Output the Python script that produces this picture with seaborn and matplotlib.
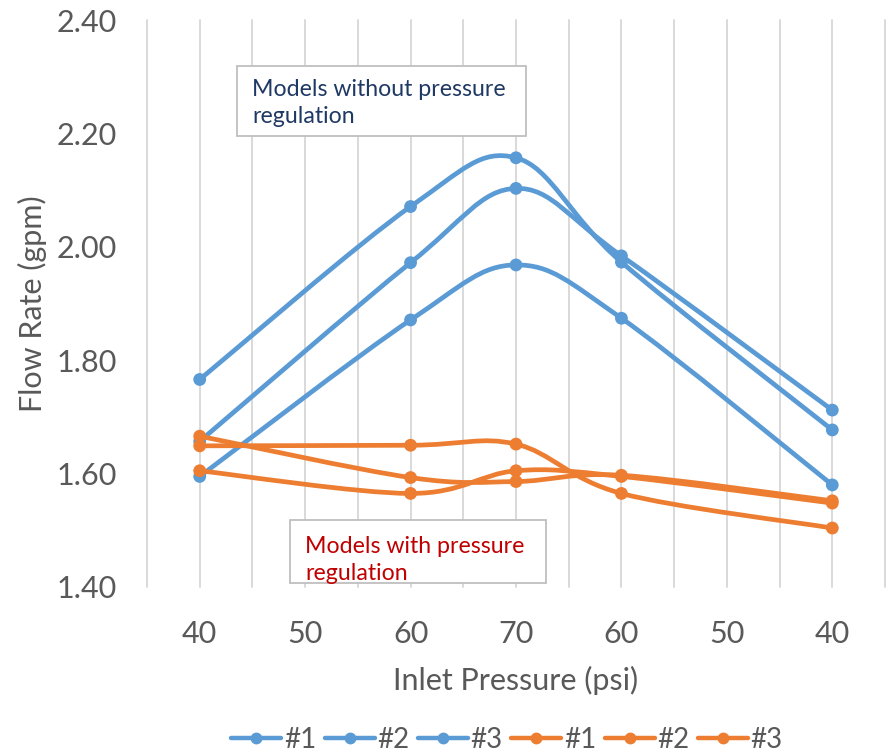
import numpy as np
import pandas as pd
import matplotlib
matplotlib.use("Agg")
import matplotlib.pyplot as plt
import seaborn as sns
from matplotlib.path import Path
from matplotlib.patches import PathPatch, Rectangle
from matplotlib.lines import Line2D

# ---------------- data ----------------
categories = ["40", "50", "60", "70", "60", "50", "40"]
x_measured = [0, 2, 3, 4, 6]          # category index of each measured pressure step
legend_labels = ["#1", "#2", "#3", "#1", "#2", "#3"]

no_reg_1 = [1.766, 2.071, 2.157, 1.973, 1.677]
no_reg_2 = [1.657, 1.972, 2.103, 1.984, 1.712]
no_reg_3 = [1.595, 1.871, 1.968, 1.874, 1.580]
reg_1 = [1.649, 1.650, 1.652, 1.565, 1.504]
reg_2 = [1.666, 1.593, 1.586, 1.597, 1.552]
reg_3 = [1.605, 1.565, 1.605, 1.595, 1.548]

y_ticks = [1.40, 1.60, 1.80, 2.00, 2.20, 2.40]

BLUE = "#5B9BD5"
ORANGE = "#ED7D31"
series = [
    ("no_reg_1", no_reg_1, BLUE),
    ("no_reg_2", no_reg_2, BLUE),
    ("no_reg_3", no_reg_3, BLUE),
    ("reg_1", reg_1, ORANGE),
    ("reg_2", reg_2, ORANGE),
    ("reg_3", reg_3, ORANGE),
]

df = pd.concat(
    [pd.DataFrame({"x": x_measured, "flow": vals, "series": name}) for name, vals, _ in series],
    ignore_index=True,
)

# ---------------- style ----------------
sns.set_theme(style="white")
plt.rcParams["font.family"] = ["Lato", "DejaVu Sans"]
TXT = "#595959"

W, H = 895, 752
fig = plt.figure(figsize=(W / 100, H / 100), dpi=100)
L, R, T, B = 147, 885, 20, 587
ax = fig.add_axes([L / W, 1 - B / H, (R - L) / W, (B - T) / H])


def smooth_path(xs, ys):
    pts = np.column_stack([xs, ys]).astype(float)
    n = len(pts)
    verts = [pts[0]]
    codes = [Path.MOVETO]
    for i in range(n - 1):
        p0 = pts[i - 1] if i > 0 else pts[i]
        p1 = pts[i]
        p2 = pts[i + 1]
        p3 = pts[i + 2] if i + 2 < n else pts[i + 1]
        c1 = p1 + (p2 - p0) / 6.0
        c2 = p2 - (p3 - p1) / 6.0
        verts += [c1, c2, p2]
        codes += [Path.CURVE4] * 3
    return Path(verts, codes)


for k, (name, vals, col) in enumerate(series):
    sub = df[df["series"] == name]
    patch = PathPatch(smooth_path(sub["x"].values, sub["flow"].values), fill=False,
                      edgecolor=col, lw=3.4, capstyle="round", joinstyle="round",
                      zorder=3 + k * 0.1)
    ax.add_patch(patch)
    sns.scatterplot(data=sub, x="x", y="flow", color=col, s=85, edgecolor="none",
                    linewidth=0, legend=False, ax=ax, zorder=3.05 + k * 0.1)

ax.set_xlim(-0.5, len(categories) - 0.5)
ax.set_ylim(y_ticks[0], y_ticks[-1])
ax.set_xticks(range(len(categories)))
ax.set_xticklabels(categories)
ax.set_xticks(np.arange(-0.5, len(categories), 1.0), minor=True)
ax.set_yticks(y_ticks)
ax.set_yticklabels([f"{v:.2f}" for v in y_ticks])

for s in ax.spines.values():
    s.set_visible(False)

ax.grid(False)
ax.grid(True, which="both", axis="x", color="#D9D9D9", lw=1.4, zorder=0)
for t in ax.xaxis.get_major_ticks() + ax.xaxis.get_minor_ticks():
    t.gridline.set_clip_on(False)

ax.tick_params(axis="both", which="both", length=0, labelsize=22, colors=TXT)
ax.tick_params(axis="y", pad=22)
ax.tick_params(axis="x", pad=24)

ax.set_xlabel("Inlet Pressure (psi)", fontsize=22, color=TXT)
ax.set_ylabel("Flow Rate (gpm)", fontsize=22, color=TXT)
ax.xaxis.set_label_coords(0.5, (B - 666) / (B - T))
ax.yaxis.set_label_coords((47 - L) / (R - L), 0.5)

# ---------------- annotation boxes ----------------
def px_box(x0, y0, x1, y1):
    r = Rectangle((x0 / W, 1 - y1 / H), (x1 - x0) / W, (y1 - y0) / H,
                  transform=fig.transFigure, facecolor="white", edgecolor="#BFBFBF",
                  lw=1.3, zorder=5, clip_on=False)
    ax.add_patch(r)


px_box(237, 66, 526, 136)
fig.text(252 / W, 1 - 103 / H, "Models without pressure\nregulation", color="#1F3864",
         fontsize=16.7, va="center", ha="left", linespacing=1.35, zorder=6)
px_box(290, 520, 546, 583)
fig.text(305 / W, 1 - 560 / H, "Models with pressure\nregulation", color="#C00000",
         fontsize=16.7, va="center", ha="left", linespacing=1.3, zorder=6)

# ---------------- legend ----------------
handles = [Line2D([], [], color=col, lw=3.2, marker="o", markersize=7.5)
           for _, _, col in series]
fig.legend(handles, legend_labels, loc="center", bbox_to_anchor=(507 / W, 1 - 740 / H),
           ncol=6, frameon=False, fontsize=20, handlelength=1.8, handletextpad=0.1,
           columnspacing=0.3, labelcolor=TXT)

fig.savefig("out.png", dpi=100)
